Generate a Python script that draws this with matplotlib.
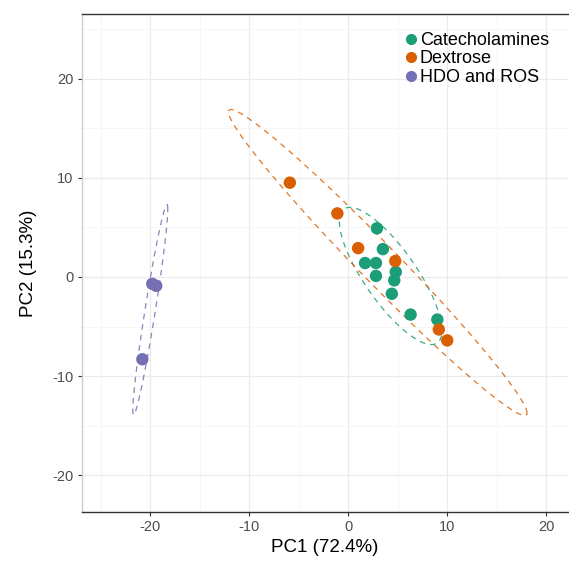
import numpy as np
import matplotlib
matplotlib.use("Agg")
import matplotlib.pyplot as plt
from matplotlib.lines import Line2D

plt.rcParams['font.family'] = ['Liberation Sans', 'DejaVu Sans']
plt.rcParams['axes.unicode_minus'] = False

groups = ["Catecholamines", "Dextrose", "HDO and ROS"]
colors = ["#1B9E77", "#D95F02", "#7570B3"]

cat_pc1 = [2.9, 3.5, 1.7, 2.8, 2.8, 4.8, 4.65, 4.4, 6.3, 9.0]
cat_pc2 = [4.9, 2.8, 1.4, 1.4, 0.1, 0.5, -0.35, -1.7, -3.8, -4.3]
dex_pc1 = [-5.9, -1.1, 1.0, 4.75, 9.15, 10.0]
dex_pc2 = [9.5, 6.4, 2.9, 1.6, -5.3, -6.4]
hdo_pc1 = [-19.8, -19.4, -20.8]
hdo_pc2 = [-0.7, -0.9, -8.3]

pc1 = [cat_pc1, dex_pc1, hdo_pc1]
pc2 = [cat_pc2, dex_pc2, hdo_pc2]


def ellipse(xs, ys, level=0.95, segments=100):
    # normal data ellipse, chi-square radius (2 df)
    data = np.column_stack([xs, ys])
    center = data.mean(axis=0)
    shape = np.cov(data, rowvar=False)
    radius = np.sqrt(-2 * np.log(1 - level))
    chol = np.linalg.cholesky(shape).T
    ang = np.linspace(0, 2 * np.pi, segments + 1)
    circ = np.column_stack([np.cos(ang), np.sin(ang)])
    return center + radius * (circ @ chol)


fig = plt.figure(figsize=(5.69, 5.66), dpi=100)
ax = fig.add_axes([0.1441, 0.0954, 0.8541, 0.8798])

for g in range(3):
    e = ellipse(pc1[g], pc2[g])
    ax.plot(e[:, 0], e[:, 1], color=colors[g], lw=0.9, alpha=0.85,
            linestyle=(0, (4.5, 4)), zorder=2)
for g in range(3):
    ax.scatter(pc1[g], pc2[g], s=80, color=colors[g], edgecolors='none', zorder=3)

ax.set_xlim(-26.9, 22.2)
ax.set_ylim(-23.7, 26.5)
ax.set_xticks([-20, -10, 0, 10, 20])
ax.set_yticks([-20, -10, 0, 10, 20])
ax.set_xticks([-25, -15, -5, 5, 15], minor=True)
ax.set_yticks([-15, -5, 5, 15, 25], minor=True)
ax.grid(which='major', color='#EBEBEB', lw=0.9)
ax.grid(which='minor', color='#F5F5F5', lw=0.6)
ax.set_axisbelow(True)

ax.spines['right'].set_visible(False)
ax.spines['left'].set_color('#CCCCCC')
ax.spines['top'].set_color('#333333')
ax.spines['bottom'].set_color('#333333')
for s in ax.spines.values():
    s.set_linewidth(1.0)

ax.tick_params(which='major', length=3, color='#333333', labelsize=10.5, labelcolor='#4D4D4D', pad=3)
ax.tick_params(which='minor', length=0)
ax.set_xlabel("PC1 (72.4%)", fontsize=13.5, labelpad=3)
ax.set_ylabel("PC2 (15.3%)", fontsize=13.5, labelpad=11)

handles = [Line2D([], [], marker='o', linestyle='none', color=c, markersize=7) for c in colors]
ax.legend(handles, groups, loc='upper right', bbox_to_anchor=(0.961, 0.964), frameon=False,
          fontsize=13, handletextpad=0.12, labelspacing=0.08, borderaxespad=0, borderpad=0,
          handlelength=0.7)

fig.savefig("out.png", dpi=100)
